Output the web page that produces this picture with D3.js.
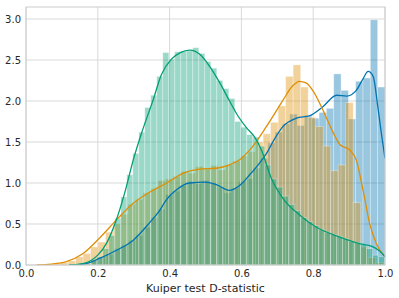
<!DOCTYPE html>
<html>
<head>
<meta charset="utf-8">
<script src="https://cdn.jsdelivr.net/npm/d3@7"></script>
<style>
body { margin: 0; background: #fff; }
svg { display: block; font-family: "DejaVu Sans", sans-serif; }
</style>
</head>
<body>
<svg id="chart"></svg>
<script>
// histograms (density) + kde lines, three runs of the Kuiper test

var xTicks = [0.0, 0.2, 0.4, 0.6, 0.8, 1.0];
var yTicks = [0.0, 0.5, 1.0, 1.5, 2.0, 2.5, 3.0];
var xLabel = "Kuiper test D-statistic";

// bin layout of each histogram: first edge and bin width
var blueBins = {start: 0.184, step: 0.0204};
var orangeBins = {start: 0.0545, step: 0.0209};
var greenBins = {start: 0.164, step: 0.0167};

var blueHeights = [0.06, 0.10, 0.13, 0.20, 0.24, 0.30, 0.36, 0.46, 0.58, 0.68,
                   0.86, 0.90, 0.97, 1.02, 0.99, 1.03, 1.00, 0.95, 0.88, 0.94,
                   1.02, 1.05, 1.18, 1.30, 1.49, 1.62, 1.72, 1.84, 1.70, 1.83,
                   1.79, 1.86, 1.91, 2.33, 2.13, 1.78, 2.24, 2.28, 2.99, 2.17];

var orangeHeights = [0.01, 0.02, 0.03, 0.05, 0.10, 0.14, 0.22, 0.28, 0.40, 0.50,
                     0.62, 0.74, 0.80, 0.88, 0.93, 1.03, 1.05, 1.08, 1.14, 1.12,
                     1.20, 1.17, 1.21, 1.16, 1.22, 1.27, 1.33, 1.38, 1.50, 1.60,
                     1.74, 1.94, 2.30, 2.44, 2.17, 1.80, 1.69, 1.45, 1.15, 1.22,
                     1.98, 0.76, 0.22, 0.09, 0.03];

var greenHeights = [0.02, 0.06, 0.10, 0.20, 0.36, 0.57, 0.83, 1.10, 1.36, 1.62,
                    1.92, 2.07, 2.30, 2.59, 2.51, 2.60, 2.61, 2.61, 2.65, 2.58,
                    2.48, 2.40, 2.25, 2.15, 2.03, 1.75, 1.68, 1.59, 1.56, 1.45,
                    1.22, 1.05, 0.95, 0.84, 0.74, 0.66, 0.58, 0.53, 0.48, 0.43,
                    0.40, 0.37, 0.35, 0.32, 0.29, 0.27, 0.25, 0.20, 0.12, 0.10];

// kde curves, [x, density]
var blueKde = [[0.12, 0], [0.16, 0.01], [0.205, 0.08], [0.252, 0.18], [0.298, 0.30],
               [0.345, 0.52], [0.37, 0.65], [0.392, 0.80], [0.42, 0.92], [0.456, 1.0],
               [0.5, 1.01], [0.53, 0.98], [0.567, 0.91], [0.595, 0.97], [0.623, 1.10],
               [0.65, 1.24], [0.67, 1.36], [0.69, 1.52], [0.716, 1.69], [0.753, 1.79],
               [0.79, 1.82], [0.827, 1.93], [0.865, 2.07], [0.893, 2.06], [0.92, 2.13],
               [0.94, 2.28], [0.953, 2.36], [0.967, 2.30], [0.98, 1.93], [0.99, 1.60],
               [1.0, 1.30]];

var orangeKde = [[0.03, 0], [0.07, 0.01], [0.112, 0.04], [0.159, 0.14], [0.205, 0.33],
                 [0.252, 0.55], [0.298, 0.75], [0.345, 0.89], [0.392, 1.0], [0.438, 1.12],
                 [0.484, 1.17], [0.53, 1.18], [0.567, 1.22], [0.6, 1.3], [0.623, 1.40],
                 [0.67, 1.69], [0.716, 2.01], [0.74, 2.17], [0.762, 2.24], [0.78, 2.22],
                 [0.8, 2.12], [0.827, 1.89], [0.855, 1.62], [0.874, 1.47], [0.902, 1.40],
                 [0.92, 1.28], [0.939, 0.91], [0.957, 0.51], [0.976, 0.26], [1.0, 0.10]];

var greenKde = [[0.12, 0], [0.15, 0.01], [0.175, 0.04], [0.2, 0.12], [0.225, 0.27],
                [0.25, 0.53], [0.275, 0.88], [0.3, 1.3], [0.322, 1.61], [0.354, 2.01],
                [0.377, 2.32], [0.405, 2.51], [0.43, 2.59], [0.456, 2.62], [0.484, 2.57],
                [0.512, 2.42], [0.54, 2.22], [0.567, 2.0], [0.59, 1.82], [0.615, 1.67],
                [0.637, 1.56], [0.656, 1.4], [0.683, 1.06], [0.716, 0.81], [0.762, 0.61],
                [0.809, 0.46], [0.85, 0.38], [0.874, 0.34], [0.9, 0.3], [0.929, 0.26],
                [0.967, 0.22], [0.985, 0.17], [1.0, 0.10]];

var colors = {blue: "#0173b2", orange: "#de8f05", green: "#029e73"};

var width = 399;
var height = 298;
var margin = {top: 7, right: 14, bottom: 33, left: 26};

var x = d3.scaleLinear().domain([0, 1]).range([margin.left, width - margin.right]);
var y = d3.scaleLinear().domain([0, 3.146]).range([height - margin.bottom, margin.top]);

var svg = d3.select("#chart")
    .attr("width", width)
    .attr("height", height);

svg.append("defs").append("clipPath")
    .attr("id", "plot")
  .append("rect")
    .attr("x", x(0))
    .attr("y", y.range()[1])
    .attr("width", x(1) - x(0))
    .attr("height", y(0) - y.range()[1]);

// grid
svg.append("g")
    .selectAll("line.gx")
    .data(xTicks)
    .enter().append("line")
        .attr("x1", d => x(d)).attr("x2", d => x(d))
        .attr("y1", y.range()[1]).attr("y2", y(0))
        .attr("stroke", "#d9d9d9")
        .attr("stroke-width", 1);

svg.append("g")
    .selectAll("line.gy")
    .data(yTicks)
    .enter().append("line")
        .attr("x1", x(0)).attr("x2", x(1))
        .attr("y1", d => y(d)).attr("y2", d => y(d))
        .attr("stroke", "#d9d9d9")
        .attr("stroke-width", 1);

var plot = svg.append("g").attr("clip-path", "url(#plot)");
var barLayer = plot.append("g");
var lineLayer = plot.append("g"); // lines sit above every bar, like matplotlib's zorder

var line = d3.line()
    .x(d => x(d[0]))
    .y(d => y(d[1]))
    .curve(d3.curveMonotoneX);

function drawSeries(heights, bins, kde, color) {
    barLayer.append("g")
        .selectAll("rect")
        .data(heights)
        .enter().append("rect")
            .attr("x", (d, i) => x(bins.start + i * bins.step))
            .attr("y", d => y(d))
            .attr("width", x(bins.step) - x(0))
            .attr("height", d => y(0) - y(d))
            .attr("fill", color)
            .attr("fill-opacity", 0.4)
            .attr("stroke", "#fff")
            .attr("stroke-opacity", 0.4)
            .attr("stroke-width", 0.8);

    lineLayer.append("path")
        .datum(kde)
        .attr("d", line)
        .attr("fill", "none")
        .attr("stroke", color)
        .attr("stroke-width", 1.3);
}

drawSeries(blueHeights, blueBins, blueKde, colors.blue);
drawSeries(orangeHeights, orangeBins, orangeKde, colors.orange);
drawSeries(greenHeights, greenBins, greenKde, colors.green);

// frame
svg.append("rect")
    .attr("x", x(0))
    .attr("y", y.range()[1])
    .attr("width", x(1) - x(0))
    .attr("height", y(0) - y.range()[1])
    .attr("fill", "none")
    .attr("stroke", "#cccccc")
    .attr("stroke-width", 1);

// axes (no tick marks, whitegrid look)
var xAxis = svg.append("g")
    .attr("transform", "translate(0," + y(0) + ")")
    .call(d3.axisBottom(x).tickValues(xTicks).tickSize(0).tickPadding(5).tickFormat(d3.format(".1f")));

var yAxis = svg.append("g")
    .attr("transform", "translate(" + x(0) + ",0)")
    .call(d3.axisLeft(y).tickValues(yTicks).tickSize(0).tickPadding(5).tickFormat(d3.format(".1f")));

[xAxis, yAxis].forEach(function(a) {
    a.select(".domain").remove();
    a.selectAll("text")
        .attr("fill", "#262626")
        .style("font-family", "'DejaVu Sans', sans-serif")
        .style("font-size", "10px");
});

svg.append("text")
    .attr("x", (x(0) + x(1)) / 2)
    .attr("y", 291.5)
    .attr("text-anchor", "middle")
    .attr("fill", "#262626")
    .style("font-size", "11px")
    .text(xLabel);
</script>
</body>
</html>
